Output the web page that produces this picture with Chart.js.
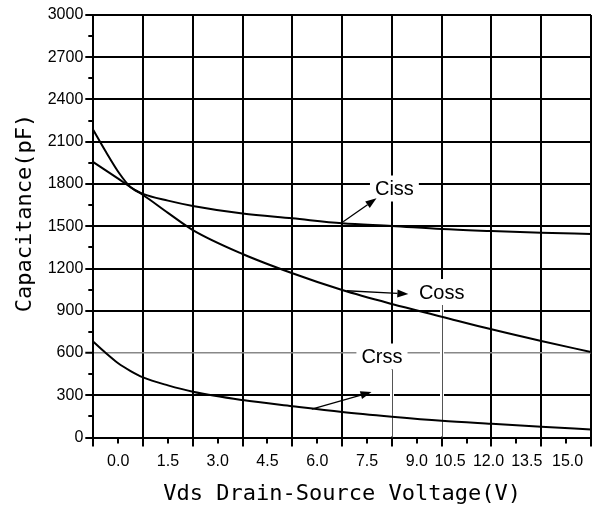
<!DOCTYPE html>
<html>
<head>
<meta charset="utf-8">
<title>Capacitance vs Vds</title>
<script src="https://cdn.jsdelivr.net/npm/chart.js@4.4.1/dist/chart.umd.min.js"></script>
<style>
  html, body { margin: 0; padding: 0; background: #fff; }
  #wrap { width: 594px; height: 511px; }
</style>
</head>
<body>
<div id="wrap"><canvas id="capChart"></canvas></div>
<script>
// x is in grid divisions (0..10), the printed labels don't line up with the grid
const gridPos = [0, 0.25, 0.5, 0.75, 1, 1.5, 2, 3, 4, 5, 6, 7, 8, 9, 10];
const ciss = [2183, 2030, 1887, 1777, 1730, 1682, 1644, 1590, 1556, 1521, 1502, 1480, 1466, 1454, 1445];
const coss = [1955, 1897, 1838, 1777, 1722, 1595, 1473, 1303, 1166, 1047, 948, 858, 768, 685, 607];
const crss = [680, 600, 527, 472, 427, 370, 325, 266, 222, 181, 148, 119, 97, 76, 57];

const xTickLabels = ["0.0", "1.5", "3.0", "4.5", "6.0", "7.5", "9.0", "10.5", "12.0", "13.5", "15.0"];
const xTickPos = [0.5, 1.5, 2.5, 3.5, 4.5, 5.5, 6.5, 7.17, 7.94, 8.71, 9.53];

// curve labels and their arrows (data coords)
const labelText = ["Ciss", "Coss", "Crss"];
const labelAt = [[6.05, 1768], [7.0, 1033], [5.8, 575]];
const arrowFrom = [[5.02, 1532], [5.09, 1042], [4.39, 202]];
const arrowTo = [[5.69, 1698], [6.33, 1019], [5.59, 323]];
const thinBelow = [null, 7, 6]; // grid line that turns thin under the label

const FONT = "'Liberation Sans', Arial, sans-serif";
const MONO = "'DejaVu Sans Mono', monospace";

const toPoints = (vals) => vals.map((v, i) => ({ x: gridPos[i], y: v }));

const curveStyle = {
  borderColor: "#000",
  borderWidth: 2,
  pointRadius: 0,
  fill: false,
  cubicInterpolationMode: "monotone",
};

function labelBox(ctx, x, y, i) {
  ctx.font = "20px " + FONT;
  const w = ctx.measureText(labelText[i]).width + 10;
  const cx = x.getPixelForValue(labelAt[i][0]);
  const cy = y.getPixelForValue(labelAt[i][1]);
  return { left: cx - w / 2, top: cy - 13, w: w, h: 26, cx: cx, cy: cy };
}

function arrow(ctx, x1, y1, x2, y2) {
  const a = Math.atan2(y2 - y1, x2 - x1);
  const len = 11, half = 4;
  ctx.beginPath();
  ctx.moveTo(x1, y1);
  ctx.lineTo(x2 - len * Math.cos(a), y2 - len * Math.sin(a));
  ctx.stroke();
  ctx.beginPath();
  ctx.moveTo(x2, y2);
  ctx.lineTo(x2 - len * Math.cos(a) + half * Math.sin(a), y2 - len * Math.sin(a) - half * Math.cos(a));
  ctx.lineTo(x2 - len * Math.cos(a) - half * Math.sin(a), y2 - len * Math.sin(a) + half * Math.cos(a));
  ctx.closePath();
  ctx.fill();
}

const extras = {
  id: "extras",
  beforeDatasetsDraw(chart) {
    const { ctx, chartArea, scales: { x, y } } = chart;
    ctx.save();

    // minor ticks
    ctx.strokeStyle = "#000";
    ctx.lineWidth = 2;
    for (let v = 150; v < 3000; v += 300) {
      const py = Math.round(y.getPixelForValue(v));
      ctx.beginPath();
      ctx.moveTo(chartArea.left, py);
      ctx.lineTo(chartArea.left - 5, py);
      ctx.stroke();
    }
    for (let u = 0.5; u < 10; u += 1) {
      const px = Math.round(x.getPixelForValue(u));
      ctx.beginPath();
      ctx.moveTo(px, chartArea.bottom);
      ctx.lineTo(px, chartArea.bottom + 6);
      ctx.stroke();
    }

    // white boxes behind the labels, thin grey grid under two of them
    labelText.forEach((t, i) => {
      const b = labelBox(ctx, x, y, i);
      ctx.fillStyle = "#fff";
      ctx.fillRect(b.left, b.top, b.w, b.h);
      if (thinBelow[i] !== null) {
        const px = Math.round(x.getPixelForValue(thinBelow[i]));
        const top = b.top + b.h;
        ctx.fillRect(px - 2, top, 4, chartArea.bottom - 1 - top);
        ctx.strokeStyle = "#555";
        ctx.lineWidth = 1;
        ctx.beginPath();
        ctx.moveTo(px + 0.5, top);
        ctx.lineTo(px + 0.5, chartArea.bottom);
        ctx.stroke();
      }
    });
    ctx.restore();
  },
  afterDatasetsDraw(chart) {
    const { ctx, scales: { x, y } } = chart;
    ctx.save();
    ctx.fillStyle = "#000";
    ctx.strokeStyle = "#000";
    ctx.lineWidth = 1.3;
    labelText.forEach((t, i) => {
      arrow(ctx,
        x.getPixelForValue(arrowFrom[i][0]), y.getPixelForValue(arrowFrom[i][1]),
        x.getPixelForValue(arrowTo[i][0]), y.getPixelForValue(arrowTo[i][1]));
      const b = labelBox(ctx, x, y, i);
      ctx.textAlign = "center";
      ctx.textBaseline = "middle";
      ctx.fillText(t, b.cx, b.cy + 1);
    });
    ctx.restore();
  },
};

new Chart(document.getElementById("capChart"), {
  type: "line",
  data: {
    datasets: [
      Object.assign({ label: "Ciss", data: toPoints(ciss) }, curveStyle),
      Object.assign({ label: "Coss", data: toPoints(coss) }, curveStyle),
      Object.assign({ label: "Crss", data: toPoints(crss) }, curveStyle),
    ],
  },
  options: {
    responsive: true,
    maintainAspectRatio: false,
    animation: false,
    layout: { padding: { top: 15, right: 3, left: 0, bottom: 0 } },
    plugins: {
      legend: { display: false },
      tooltip: { enabled: false },
    },
    scales: {
      x: {
        type: "linear",
        min: 0,
        max: 10,
        weight: 0,
        ticks: { stepSize: 1, display: false },
        grid: { color: "#000", lineWidth: 2, tickLength: 9, tickColor: "#000", tickWidth: 2 },
        border: { color: "#000", width: 2 },
        afterFit: (s) => { s.height = 9; },
      },
      xl: {
        type: "linear",
        position: "bottom",
        min: 0,
        max: 10,
        weight: 1,
        afterBuildTicks: (s) => { s.ticks = xTickPos.map((v) => ({ value: v })); },
        ticks: {
          callback: (v, i) => xTickLabels[i],
          autoSkip: false,
          maxRotation: 0,
          minRotation: 0,
          padding: 5,
          color: "#000",
          font: { family: FONT, size: 16 },
        },
        grid: { display: false, drawTicks: false },
        border: { display: false },
        title: {
          display: true,
          text: "Vds Drain-Source Voltage(V)",
          color: "#000",
          font: { family: MONO, size: 22 },
          padding: { top: 4, bottom: 4 },
        },
        afterFit: (s) => { s.height = 64.5; },
      },
      y: {
        min: 0,
        max: 3000,
        ticks: {
          stepSize: 300,
          padding: 2,
          color: "#000",
          font: { family: FONT, size: 16 },
          callback: (v) => String(v),
        },
        grid: {
          color: (c) => (c.tick && c.tick.value === 600 ? "#888" : "#000"),
          lineWidth: (c) => (c.tick && c.tick.value === 600 ? 1.5 : 2),
          tickColor: "#000",
          tickWidth: 2,
          tickLength: 8,
        },
        border: { color: "#000", width: 2 },
        title: {
          display: true,
          text: "  Capacitance(pF)",
          color: "#000",
          font: { family: MONO, size: 22 },
          padding: { top: 12, bottom: 0 },
        },
        afterFit: (s) => { s.width = 93.3; },
      },
    },
  },
  plugins: [extras],
});
</script>
</body>
</html>
